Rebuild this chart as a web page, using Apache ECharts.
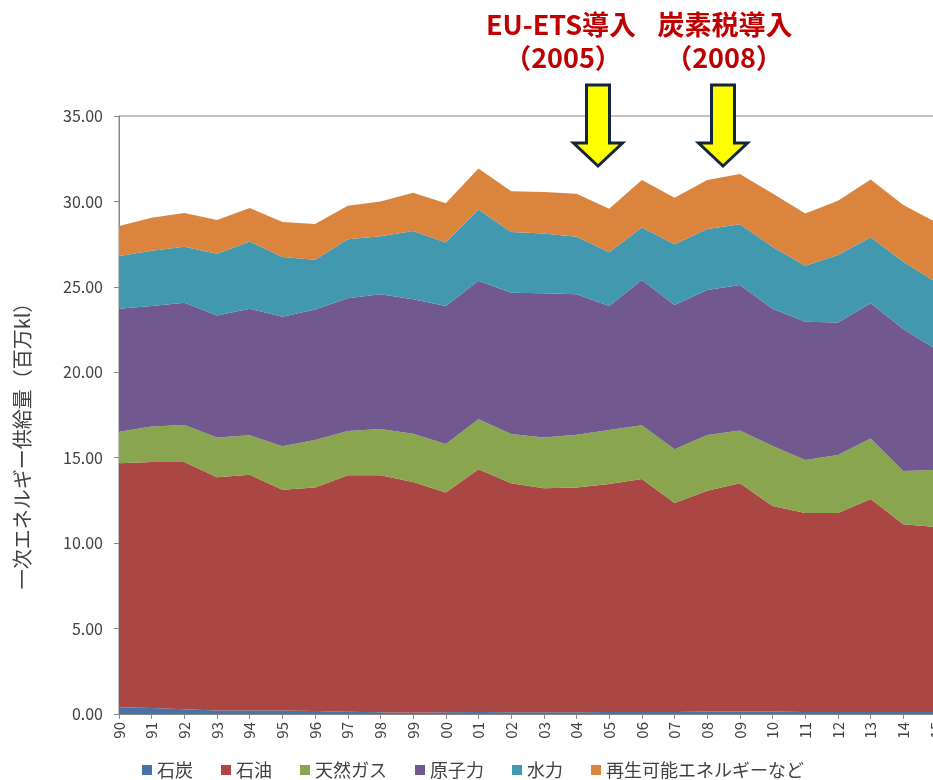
<!DOCTYPE html>
<html>
<head>
<meta charset="utf-8">
<script src="https://cdn.jsdelivr.net/npm/echarts@6/dist/echarts.min.js"></script>
<style>
  html, body { margin: 0; padding: 0; background: #fff; }
  #chart { width: 933px; height: 780px; }
</style>
</head>
<body>
<div id="chart"></div>
<script>
// 年度 (1990〜2015)
const years = ['90','91','92','93','94','95','96','97','98','99','00','01','02','03','04','05','06','07','08','09','10','11','12','13','14','15']

// 一次エネルギー供給量（百万kl）
const coal = [0.40,0.35,0.28,0.20,0.20,0.20,0.17,0.13,0.10,0.08,0.10,0.12,0.10,0.10,0.10,0.12,0.12,0.12,0.15,0.15,0.15,0.12,0.12,0.12,0.12,0.12]
const oil = [14.27,14.40,14.47,13.65,13.81,12.93,13.08,13.84,13.87,13.50,12.87,14.20,13.40,13.11,13.15,13.34,13.63,12.23,12.92,13.35,12.02,11.64,11.64,12.46,10.98,10.83]
const gas = [1.85,2.07,2.16,2.34,2.30,2.54,2.79,2.59,2.71,2.82,2.83,2.93,2.89,2.98,3.10,3.16,3.15,3.14,3.26,3.10,3.52,3.11,3.40,3.55,3.12,3.33]
const nuclear = [7.20,7.06,7.16,7.14,7.41,7.58,7.64,7.77,7.88,7.87,8.08,8.11,8.27,8.43,8.21,7.26,8.50,8.45,8.49,8.51,8.03,8.09,7.76,7.91,8.31,7.06]
const hydro = [3.08,3.24,3.28,3.61,3.94,3.50,2.91,3.45,3.40,4.00,3.71,4.17,3.55,3.51,3.38,3.14,3.08,3.55,3.56,3.55,3.63,3.28,3.94,3.86,3.94,3.93]
const renewable = [1.76,1.93,1.97,1.97,1.95,2.05,2.09,1.97,2.04,2.24,2.30,2.39,2.38,2.42,2.51,2.55,2.77,2.73,2.87,2.94,3.12,3.06,3.18,3.39,3.32,3.50]

const seriesDefs = [
  { name: '石炭', data: coal, color: '#4572A7' },
  { name: '石油', data: oil, color: '#AA4643' },
  { name: '天然ガス', data: gas, color: '#89A54E' },
  { name: '原子力', data: nuclear, color: '#71588F' },
  { name: '水力', data: hydro, color: '#4198AF' },
  { name: '再生可能エネルギーなど', data: renewable, color: '#DB843D' }
]

const font = '"Noto Sans CJK JP", "Noto Sans", sans-serif'
const textColor = '#404040'
const axisColor = '#868686'

// 矢印（下向き）
const arrow = (cx) => ({
  type: 'polygon',
  shape: {
    points: [
      [cx - 11.5, 85], [cx + 11.5, 85], [cx + 11.5, 143], [cx + 24.5, 143],
      [cx, 166], [cx - 24.5, 143], [cx - 11.5, 143]
    ]
  },
  style: { fill: '#FFFF00', stroke: '#14253F', lineWidth: 3 },
  z: 100
})

const label = (x, y, text) => ({
  type: 'text',
  x: x,
  y: y,
  style: {
    text: text,
    fill: '#C00000',
    font: 'bold 27px ' + font,
    textAlign: 'center',
    textVerticalAlign: 'middle'
  },
  z: 100
})

const chart = echarts.init(document.getElementById('chart'), null, { renderer: 'canvas' })

chart.setOption({
  animation: false,
  textStyle: { fontFamily: font },
  grid: {
    left: 119,
    right: -3,
    top: 116,
    bottom: 66,
    outerBoundsMode: 'none',
    containLabel: false,
    show: true,
    borderColor: axisColor,
    borderWidth: 1
  },
  legend: {
    left: 137,
    top: 756,
    itemWidth: 10,
    itemHeight: 10,
    itemGap: 28,
    icon: 'rect',
    textStyle: { fontSize: 18, color: textColor, fontFamily: font }
  },
  xAxis: {
    type: 'category',
    data: years,
    boundaryGap: false,
    axisLine: { lineStyle: { color: axisColor } },
    axisTick: { show: true, alignWithLabel: true, length: 5, lineStyle: { color: axisColor } },
    axisLabel: { rotate: 90, fontSize: 15, color: textColor, margin: 8, interval: 0 }
  },
  yAxis: {
    type: 'value',
    min: 0,
    max: 35,
    interval: 5,
    axisLine: { show: true, lineStyle: { color: axisColor } },
    axisTick: { show: true, length: 5, lineStyle: { color: axisColor } },
    axisLabel: {
      fontSize: 16,
      color: textColor,
      margin: 16,
      formatter: v => v.toFixed(2)
    },
    splitLine: { show: false }
  },
  series: seriesDefs.map(s => ({
    name: s.name,
    type: 'line',
    stack: 'total',
    data: s.data,
    symbol: 'none',
    lineStyle: { width: 0 },
    itemStyle: { color: s.color },
    areaStyle: { color: s.color, opacity: 1 }
  })),
  graphic: [
    {
      type: 'text',
      x: 22,
      y: 441,
      rotation: Math.PI / 2,
      style: {
        text: '一次エネルギー供給量（百万kl）',
        fill: textColor,
        font: '20px ' + font,
        textAlign: 'center',
        textVerticalAlign: 'middle'
      }
    },
    label(561, 25, 'EU-ETS導入'),
    label(563, 58, '（2005）'),
    label(725, 25, '炭素税導入'),
    label(724, 58, '（2008）'),
    arrow(598),
    arrow(723)
  ]
})
</script>
</body>
</html>
